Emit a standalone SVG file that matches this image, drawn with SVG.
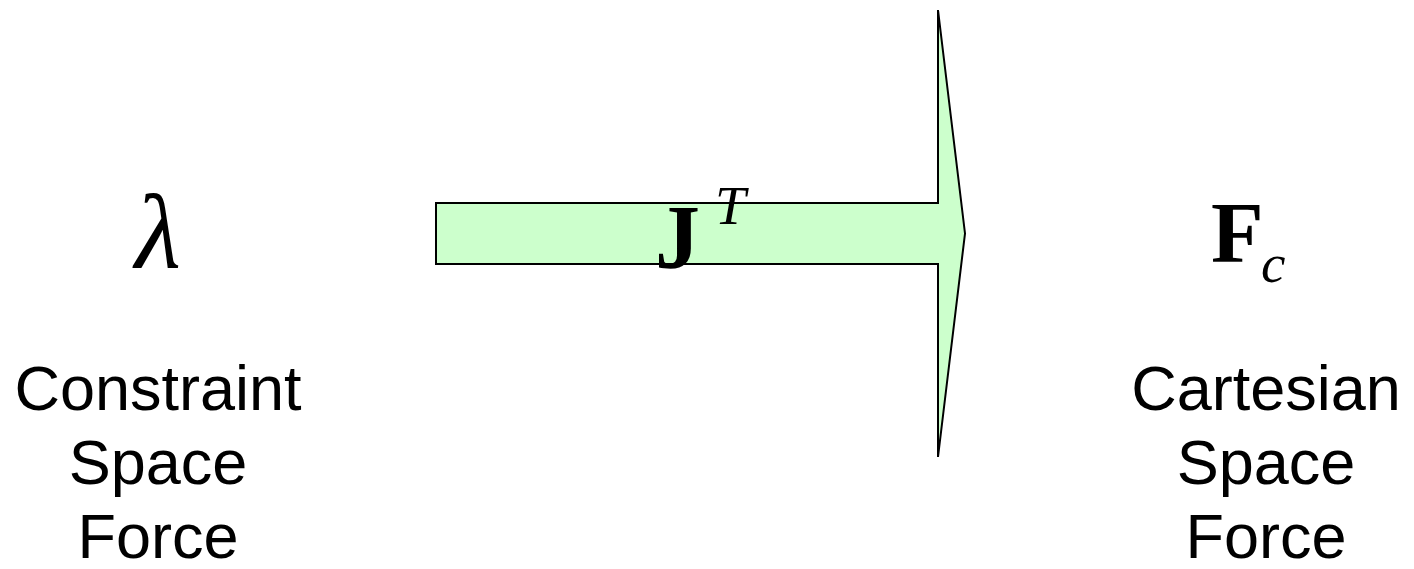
<svg xmlns="http://www.w3.org/2000/svg" width="1414" height="569" viewBox="0 0 1414 569">
<style>
.lbl{font-family:"Liberation Sans",Arial,sans-serif;font-size:63px;fill:#000;text-anchor:middle}
.math{font-family:"Liberation Serif","Times New Roman",serif;fill:#000}
.b{font-weight:bold}
.i{font-style:italic}
</style>
<rect width="1414" height="569" fill="#fff"/>
<g id="connectors">
<polygon id="jt-arrow" points="436,203 938,203 938,10 965,233.5 938,457 938,264 436,264" fill="#ccffcc" stroke="#000" stroke-width="2" stroke-linejoin="miter"/>
</g>
<g id="node-jt">
<text class="math b" x="655" y="268" font-size="90">J</text>
<text class="math i" x="715" y="224" font-size="55">T</text>
</g>
<g id="node-lambda">
<text class="math i" x="158" y="267" font-size="106" text-anchor="middle">λ</text>
<text class="lbl" x="158" y="410">Constraint</text>
<text class="lbl" x="158" y="484">Space</text>
<text class="lbl" x="158" y="558">Force</text>
</g>
<g id="node-fc">
<text class="math b" x="1211" y="262" font-size="86">F</text>
<text class="math i" x="1261" y="282" font-size="55">c</text>
<text class="lbl" x="1266" y="410">Cartesian</text>
<text class="lbl" x="1266" y="484">Space</text>
<text class="lbl" x="1266" y="558">Force</text>
</g>
</svg>
